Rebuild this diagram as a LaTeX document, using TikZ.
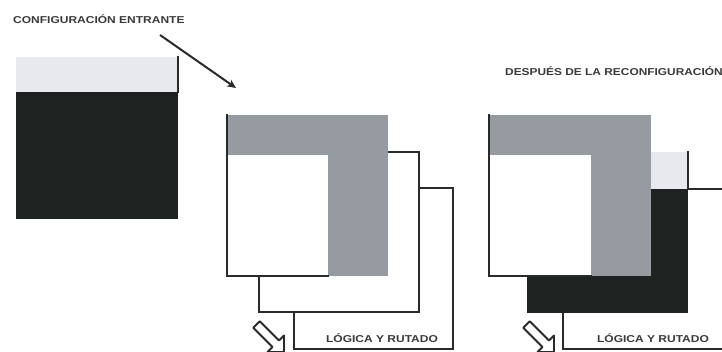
\documentclass[tikz,border=0pt]{standalone}
\usepackage{fontspec}
\setmainfont{Liberation Sans}
\usetikzlibrary{arrows.meta}
\definecolor{midgray}{HTML}{959BA1}
\definecolor{lightgray}{HTML}{E8E9EE}
\definecolor{darkfill}{HTML}{1E2322}
\definecolor{edge}{HTML}{2A2A2A}
\definecolor{txt}{HTML}{3A3A3A}
\tikzset{
  outline/.style={draw=edge, line width=1.5pt, line cap=rect},
  label/.style={inner sep=0pt, text=txt, font=\fontsize{10}{11}\selectfont\bfseries},
  hollow/.style={draw=edge, fill=white, line width=1.8pt, line join=round},
}
\newcommand{\wide}[2][1.2]{\scalebox{#1}[1]{#2}}
\begin{document}
\begin{tikzpicture}[x=1pt,y=-1pt]
\useasboundingbox (0,0) rectangle (722,351);
\clip (0,0) rectangle (722,351);
\fill[white] (0,0) rectangle (722,351);

% ---------- incoming configuration (left block)
\fill[darkfill] (16,92) rectangle (178,219);
\fill[lightgray] (16,57) rectangle (178,92);
\draw[outline] (178,57) -- (178,92);

\node[label, anchor=base west] (lblin) at (13,23.5) {\wide{CONFIGURACIÓN ENTRANTE}};
\coordinate (arrs) at (160,35);
\coordinate (arre) at (236,88);
\draw[edge, line width=2pt, -{Stealth[length=9pt,width=8pt]}] (arrs) -- (arre);

% ---------- middle set
% plane 3
\draw[outline] (294,312) -- (294,349) -- (453,349) -- (453,188) -- (419,188);
% plane 2
\draw[outline] (259,276) -- (259,312) -- (419,312) -- (419,152) -- (388,152);
% plane 1
\fill[midgray] (227,115) rectangle (388,276);
\fill[white] (227,155) rectangle (328,276);
\draw[outline] (227,115) -- (227,276) -- (328,276);

\node[label, anchor=base] (lblm) at (382,342) {\wide{LÓGICA Y RUTADO}};

\begin{scope}[shift={(256.5,324.5)}, rotate=-45]
  \draw[hollow] (0,4.6) -- (27.2,4.6) -- (27.2,11.7) -- (38.9,0) -- (27.2,-11.7) -- (27.2,-4.6) -- (0,-4.6) -- cycle;
\end{scope}

% ---------- right set
\node[label, anchor=base west] (lblout) at (505,75.5) {\wide[1.19]{DESPUÉS DE LA RECONFIGURACIÓN}};
% plane 3
\draw[outline] (563,313) -- (563,349) -- (730,349);
\draw[outline] (688,189) -- (730,189);
% plane 2
\fill[darkfill] (527,189) rectangle (688,313);
\fill[lightgray] (527,152) rectangle (688,189);
\draw[outline] (688,152) -- (688,189);
% plane 1
\fill[midgray] (489,115) rectangle (651,276);
\fill[white] (489,155) rectangle (591,276);
\draw[outline] (489,115) -- (489,276) -- (591,276);

\node[label, anchor=base] (lblr) at (653,342) {\wide{LÓGICA Y RUTADO}};

\begin{scope}[shift={(526.5,324.5)}, rotate=-45]
  \draw[hollow] (0,4.6) -- (27.2,4.6) -- (27.2,11.7) -- (38.9,0) -- (27.2,-11.7) -- (27.2,-4.6) -- (0,-4.6) -- cycle;
\end{scope}
\end{tikzpicture}
\end{document}
